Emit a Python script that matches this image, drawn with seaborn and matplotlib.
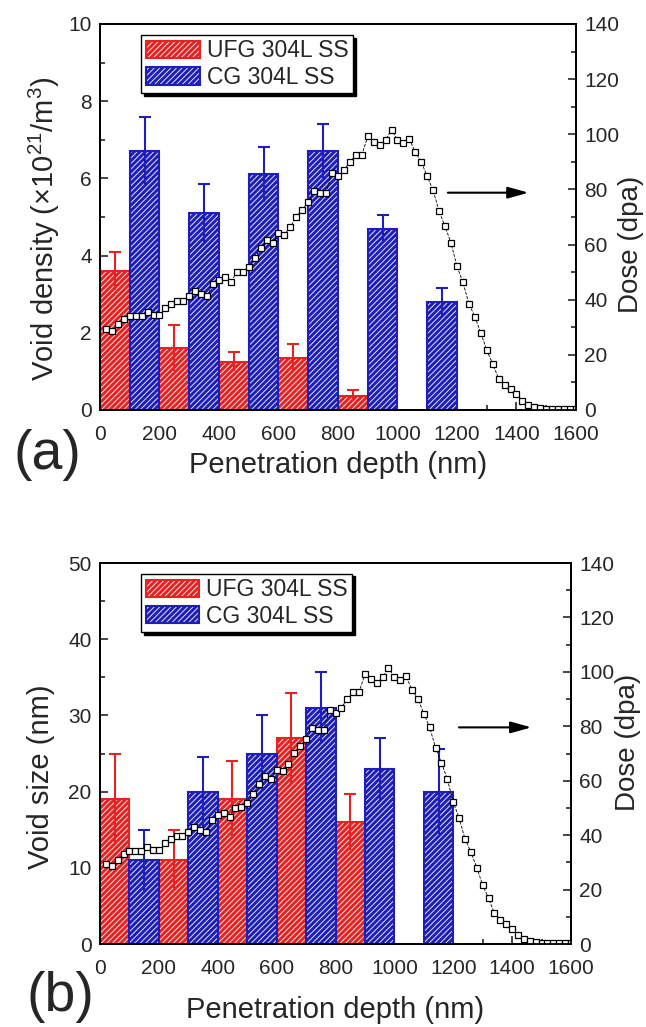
import numpy as np
import pandas as pd
import seaborn as sns
import matplotlib.pyplot as plt
from matplotlib.ticker import MultipleLocator
from matplotlib.patches import Patch
from matplotlib.legend_handler import HandlerTuple

# bar centres (nm), 100 nm wide bins
depth_ufg = [50, 250, 450, 650, 850]
depth_cg = [150, 350, 550, 750, 950, 1150]

# panel (a): void density (x10^21 /m^3)
density_ufg = [3.6, 1.6, 1.25, 1.35, 0.37]
density_ufg_err = [0.5, 0.6, 0.25, 0.35, 0.15]
density_cg = [6.7, 5.1, 6.1, 6.7, 4.7, 2.8]
density_cg_err = [0.9, 0.75, 0.7, 0.7, 0.35, 0.35]

# panel (b): void size (nm)
size_ufg = [19, 11, 19, 27, 16]
size_ufg_err = [6, 4, 5, 6, 3.7]
size_cg = [11, 20, 25, 31, 23, 20]
size_cg_err = [4, 4.5, 5, 4.7, 4, 5.6]

# SRIM dose profile (dpa)
dose_depth = [20, 40, 60, 80, 100, 120, 140, 160, 180, 200,
              220, 240, 260, 280, 300, 320, 340, 360, 380, 400,
              420, 440, 460, 480, 500, 520, 540, 560, 580, 600,
              620, 640, 660, 680, 700, 720, 740, 760, 780, 800,
              820, 840, 860, 880, 900, 920, 940, 960, 980, 1000,
              1020, 1040, 1060, 1080, 1100, 1120, 1140, 1160, 1180, 1200,
              1220, 1240, 1260, 1280, 1300, 1320, 1340, 1360, 1380, 1400,
              1420, 1440, 1460, 1480, 1500, 1520, 1540, 1560, 1580, 1600]
dose = [29.4, 28.6, 31.0, 33.0, 34.2, 34.0, 34.2, 35.6, 34.4, 34.4,
        37.0, 38.5, 39.6, 39.6, 41.3, 43.0, 42.0, 41.2, 45.7, 47.3,
        48.2, 46.5, 49.9, 50.2, 51.7, 55.0, 58.8, 61.6, 60.5, 64.0,
        63.6, 66.3, 70.1, 72.7, 75.4, 79.5, 78.8, 78.8, 86.1, 84.8,
        86.9, 90.0, 92.5, 92.5, 99.2, 97.3, 96.0, 98.0, 101.6, 98.0,
        97.0, 98.3, 93.4, 90.0, 84.7, 79.6, 72.0, 66.6, 60.5, 52.1,
        46.3, 38.6, 33.8, 28.0, 21.7, 16.8, 11.3, 9.0, 7.5, 5.7,
        3.3, 1.7, 1.2, 0.7, 0.5, 0.4, 0.3, 0.3, 0.3, 0.3]

# arrow pointing to the dose axis: (start nm, end nm, dose level)
arrow_a = (1160, 1450, 78.8)
arrow_b = (1210, 1475, 79.6)

red = "#e52323"
blue = "#1e1eb9"

sns.set_style("ticks")
plt.rcParams["font.family"] = ["Liberation Sans", "DejaVu Sans"]
plt.rcParams["mathtext.fontset"] = "custom"
plt.rcParams["mathtext.rm"] = "Liberation Sans"
plt.rcParams["mathtext.it"] = "Liberation Sans:italic"
plt.rcParams["hatch.linewidth"] = 0.6

HATCH = "//////"


def draw_bars(ax, x, y, err, color):
    df = pd.DataFrame({"x": x, "y": y})
    sns.barplot(data=df, x="x", y="y", native_scale=True, width=0.5,
                color=color, saturation=1, edgecolor="white", linewidth=0,
                hatch=HATCH, errorbar=None, ax=ax)
    sns.barplot(data=df, x="x", y="y", native_scale=True, width=0.5,
                color=color, saturation=1, fill=False, linewidth=1.5,
                errorbar=None, ax=ax)
    eb = ax.errorbar(x, y, yerr=err, fmt="none", ecolor=color,
                     elinewidth=1.5, capsize=4, capthick=1.5)
    eb[1][0].set_visible(False)


def style_axes(ax, ax2, ymax, ymajor, xpad):
    ax.set_xlim(0, 1600)
    ax.set_ylim(0, ymax)
    ax2.set_ylim(0, 140)
    ax.xaxis.set_major_locator(MultipleLocator(200))
    ax.xaxis.set_minor_locator(MultipleLocator(100))
    ax.yaxis.set_major_locator(MultipleLocator(ymajor))
    ax.yaxis.set_minor_locator(MultipleLocator(ymajor / 2))
    ax2.yaxis.set_major_locator(MultipleLocator(20))
    ax2.yaxis.set_minor_locator(MultipleLocator(10))
    for a in (ax, ax2):
        for s in a.spines.values():
            s.set_linewidth(1.3)
            s.set_color("black")
    ax.tick_params(which="both", direction="in", top=False, right=False,
                   labelsize=15, width=1.2)
    ax.tick_params(axis="x", which="both", pad=11)
    ax.tick_params(axis="y", which="both", pad=6)
    ax.tick_params(which="major", length=6)
    ax.tick_params(which="minor", length=3.5)
    ax2.tick_params(which="both", direction="in", left=False,
                    labelsize=15, width=1.2, pad=6)
    ax2.tick_params(which="major", length=6)
    ax2.tick_params(which="minor", length=3.5)
    ax.set_xlabel("Penetration depth (nm)", fontsize=21, labelpad=xpad)
    ax2.set_ylabel("Dose (dpa)", fontsize=20)


def draw_panel(ax, ufg, ufg_err, cg, cg_err, arrow):
    draw_bars(ax, depth_ufg, ufg, ufg_err, red)
    draw_bars(ax, depth_cg, cg, cg_err, blue)
    ax2 = ax.twinx()
    sns.lineplot(x=dose_depth, y=dose, ax=ax2, color="black",
                 linestyle="--", linewidth=0.6, marker="s", markersize=5,
                 markerfacecolor="white", markeredgecolor="black",
                 markeredgewidth=0.9)
    ax2.annotate("", xy=(arrow[1], arrow[2]), xytext=(arrow[0], arrow[2]),
                 arrowprops=dict(arrowstyle="-|>,head_length=0.9,head_width=0.25",
                                 color="black", lw=1.5, mutation_scale=14))
    handles = [
        (Patch(facecolor=red, edgecolor="white", linewidth=0, hatch=HATCH),
         Patch(fill=False, edgecolor=red, linewidth=1.5)),
        (Patch(facecolor=blue, edgecolor="white", linewidth=0, hatch=HATCH),
         Patch(fill=False, edgecolor=blue, linewidth=1.5)),
    ]
    leg = ax.legend(handles, ["UFG 304L SS", "CG 304L SS"],
                    handler_map={tuple: HandlerTuple(ndivide=1)},
                    loc="upper left", bbox_to_anchor=(0.087, 0.972),
                    borderaxespad=0, fontsize=16.5, frameon=True,
                    fancybox=False, framealpha=1, edgecolor="black",
                    shadow={"color": "black", "alpha": 1},
                    handlelength=2.35, handleheight=0.8, handletextpad=0.3,
                    labelspacing=0.15, borderpad=0.2)
    leg.get_frame().set_linewidth(1.0)
    return ax2


fig = plt.figure(figsize=(6.46, 10.27), dpi=100)
ax_a = fig.add_axes([0.1548, 0.6008, 0.7368, 0.3759])
ax_b = fig.add_axes([0.1548, 0.0808, 0.7291, 0.3710])

ax2_a = draw_panel(ax_a, density_ufg, density_ufg_err, density_cg,
                   density_cg_err, arrow_a)
style_axes(ax_a, ax2_a, 10, 2, xpad=5)
ax_a.set_ylabel(r"Void density ($\times$10$^{21}$/m$^{3}$)", fontsize=21)
ax_a.yaxis.set_label_coords(-0.08, 0.47)
ax2_a.yaxis.set_label_coords(1.088, 0.43)

ax2_b = draw_panel(ax_b, size_ufg, size_ufg_err, size_cg, size_cg_err,
                   arrow_b)
style_axes(ax_b, ax2_b, 50, 10, xpad=13)
ax_b.set_ylabel("Void size (nm)", fontsize=21)
ax_b.yaxis.set_label_coords(-0.095, 0.44)
ax2_b.yaxis.set_label_coords(1.093, 0.53)

fig.text(0.073, 0.557, "(a)", fontsize=40, ha="center", va="center")
fig.text(0.093, 0.029, "(b)", fontsize=40, ha="center", va="center")

fig.savefig("out.png", dpi=100)
